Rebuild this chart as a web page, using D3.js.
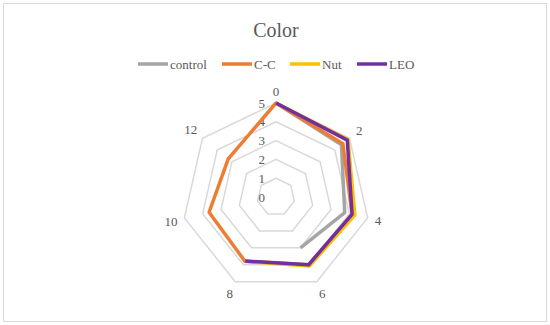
<!DOCTYPE html>
<html>
<head>
<meta charset="utf-8">
<script src="https://cdn.jsdelivr.net/npm/d3@7"></script>
<style>
  body { margin: 0; background: #fff; }
  text { font-family: "Liberation Serif", "Times New Roman", serif; }
</style>
</head>
<body>
<div id="chart"></div>
<script>
// radar chart "Color"
const axisLabels = ["0", "2", "4", "6", "8", "10", "12"];
const tickValues = [0, 1, 2, 3, 4, 5];

const seriesNames = ["control", "C-C", "Nut", "LEO"];
const control = [5, 4.45, 3.75, 3.0];
const cc = [5, 4.55, 4.15, 4.0, 3.8, 3.65, 3.25];
const nut = [5, 4.9, 4.3, 4.08, 3.8];
const leo = [5, 4.85, 4.15, 4.0, 3.78];
const colors = ["#a5a5a5", "#ed7d31", "#ffc000", "#7030a0"];

const width = 550;
const height = 325;
const cx = 276, cy = 197, R = 94;
const textColor = "#595959";

const svg = d3.select("#chart")
    .append("svg")
    .attr("width", width)
    .attr("height", height);

// chart border
svg.append("rect")
    .attr("x", 3.5).attr("y", 3.5)
    .attr("width", width - 7).attr("height", height - 7)
    .attr("fill", "#fff")
    .attr("stroke", "#d9d9d9");

// title
svg.append("text")
    .attr("x", 276).attr("y", 37)
    .attr("text-anchor", "middle")
    .attr("fill", textColor)
    .style("font-size", "20px")
    .text("Color");

const r = d3.scaleLinear().domain([0, 5]).range([0, R]);
const angle = d3.scaleLinear().domain([0, axisLabels.length]).range([0, 2 * Math.PI]);

const px = (i, v) => cx + r(v) * Math.sin(angle(i));
const py = (i, v) => cy - r(v) * Math.cos(angle(i));

const g = svg.append("g");

// grid rings
tickValues.filter(t => t > 0).forEach(t => {
    g.append("path")
        .attr("d", d3.line().curve(d3.curveLinearClosed)(axisLabels.map((d, i) => [px(i, t), py(i, t)])))
        .attr("fill", "none")
        .attr("stroke", "#d9d9d9")
        .attr("stroke-width", 1.5);
});

// tick labels along the first axis
g.selectAll(".tick")
    .data(tickValues)
    .enter()
    .append("text")
    .attr("x", cx - 11)
    .attr("y", d => cy - r(d))
    .attr("dy", "0.35em")
    .attr("text-anchor", "end")
    .attr("fill", textColor)
    .style("font-size", "13px")
    .text(d => d);

// category labels
const labelOff = (d, i) => 6 + Math.abs(Math.sin(angle(i))) * d.length * 3.3 + Math.abs(Math.cos(angle(i))) * 6;
g.selectAll(".cat")
    .data(axisLabels)
    .enter()
    .append("text")
    .attr("x", (d, i) => cx + (R + labelOff(d, i)) * Math.sin(angle(i)))
    .attr("y", (d, i) => cy - (R + labelOff(d, i)) * Math.cos(angle(i)))
    .attr("dy", "0.35em")
    .attr("text-anchor", "middle")
    .attr("fill", textColor)
    .style("font-size", "13px")
    .text(d => d);

// series lines (closed when every category has a value)
const allSeries = [control, cc, nut, leo];

allSeries.forEach((s, k) => {
    const line = d3.line()
        .x((d, i) => px(i, d))
        .y((d, i) => py(i, d))
        .curve(s.length === axisLabels.length ? d3.curveLinearClosed : d3.curveLinear);
    g.append("path")
        .attr("d", line(s))
        .attr("fill", "none")
        .attr("stroke", colors[k])
        .attr("stroke-width", 3.5)
        .attr("stroke-linejoin", "round");
});

// legend
const legendX = [138, 222, 290, 357];
const legend = svg.selectAll(".legend")
    .data(seriesNames)
    .enter()
    .append("g")
    .attr("transform", (d, i) => `translate(${legendX[i]},64)`);

legend.append("line")
    .attr("x1", 0).attr("x2", 30)
    .attr("stroke", (d, i) => colors[i])
    .attr("stroke-width", 3.5);

legend.append("text")
    .attr("x", 32)
    .attr("dy", "0.35em")
    .attr("fill", textColor)
    .style("font-size", "13px")
    .text(d => d);
</script>
</body>
</html>
